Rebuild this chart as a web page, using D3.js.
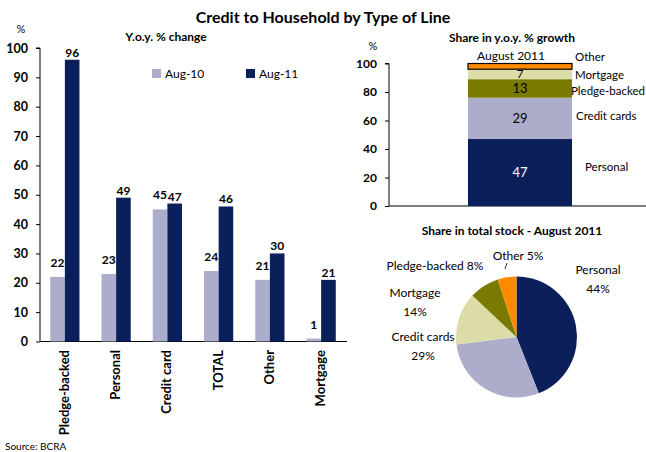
<!DOCTYPE html>
<html>
<head>
<meta charset="utf-8">
<script src="https://cdn.jsdelivr.net/npm/d3@7"></script>
<style>
  html, body { margin: 0; padding: 0; background: #fff; }
  svg { display: block; font-family: Lato, "Open Sans", sans-serif; }
</style>
</head>
<body>
<svg id="chart" width="646" height="452"></svg>
<script>
// Y.o.y. % change by line of credit
const categories = ["Pledge-backed", "Personal", "Credit card", "TOTAL", "Other", "Mortgage"];
const aug10 = [22, 23, 45, 24, 21, 1];
const aug11 = [96, 49, 47, 46, 30, 21];
const seriesNames = ["Aug-10", "Aug-11"];
const yTicks = [0, 10, 20, 30, 40, 50, 60, 70, 80, 90, 100];

// Share in y.o.y. % growth, August 2011 (stacked bottom to top)
const growthParts = ["Personal", "Credit cards", "Pledge-backed", "Mortgage", "Other"];
const growthShare = [47, 29, 13, 7, 4];
const growthLabels = ["47", "29", "13", "7", ""];
const growthTicks = [0, 20, 40, 60, 80, 100];

// Share in total stock, August 2011
const stockParts = ["Personal", "Credit cards", "Mortgage", "Pledge-backed", "Other"];
const stockShare = [44, 29, 14, 8, 5];

const colors = {
  "Personal": "#0b1f5b",
  "Credit cards": "#abadca",
  "Pledge-backed": "#7a7a00",
  "Mortgage": "#dcdca8",
  "Other": "#ff8a00"
};
const c10 = "#abadca", c11 = "#0b1f5b";

const svg = d3.select("#chart");

svg.append("text").attr("x", 323).attr("y", 23).attr("text-anchor", "middle")
  .attr("font-size", 16).attr("font-weight", "bold").text("Credit to Household by Type of Line");

// ---------- Left: grouped bars ----------
const L = { x0: 40, x1: 347, y0: 341.5, y1: 48 };
const x = d3.scaleBand().domain(categories).range([L.x0, L.x0 + 306]).paddingInner(0.43).paddingOuter(0.2);
const xs = d3.scaleBand().domain(seriesNames).range([0, x.bandwidth()]);
const y = d3.scaleLinear().domain([0, 100]).range([L.y0, L.y1]);

const left = svg.append("g");
left.append("text").attr("x", 166).attr("y", 41).attr("text-anchor", "middle")
  .attr("font-size", 12).attr("font-weight", "bold").text("Y.o.y. % change");
left.append("text").attr("x", 21).attr("y", 33).attr("text-anchor", "middle")
  .attr("font-size", 11).text("%");

const yAxis = left.append("g").attr("transform", `translate(${L.x0},0)`)
  .call(d3.axisLeft(y).tickValues(yTicks).tickSize(4).tickPadding(8));
yAxis.select(".domain").attr("stroke", "#000").attr("d", `M-4,${L.y1}H0V${L.y0}`);
yAxis.selectAll(".tick line").attr("stroke", "#000");
yAxis.selectAll(".tick text").attr("font-size", 12.5).attr("font-weight", "bold")
  .attr("font-family", "Lato, sans-serif").attr("fill", "#000");

left.append("line").attr("x1", L.x0).attr("x2", L.x1).attr("y1", L.y0).attr("y2", L.y0)
  .attr("stroke", "#000");

const groups = left.selectAll("g.cat").data(categories).join("g")
  .attr("transform", d => `translate(${x(d)},0)`);
const series = [aug10, aug11];
const scol = [c10, c11];
series.forEach((vals, s) => {
  groups.append("rect")
    .attr("x", xs(seriesNames[s])).attr("width", xs.bandwidth())
    .attr("y", (d, i) => y(vals[i])).attr("height", (d, i) => y(0) - y(vals[i]))
    .attr("fill", scol[s]);
});
// value labels: Aug-10 sit a little higher above their bars
series.forEach((vals, s) => {
  groups.append("text")
    .attr("x", xs(seriesNames[s]) + xs.bandwidth() / 2)
    .attr("y", (d, i) => y(vals[i]) - (s === 1 ? 3 : 10))
    .attr("text-anchor", "middle").attr("font-size", 12).attr("font-weight", "bold")
    .text((d, i) => vals[i]);
});
// category labels, rotated
groups.append("text")
  .attr("transform", `translate(${x.bandwidth() / 2 + 4},350) rotate(-90)`)
  .attr("text-anchor", "end").attr("font-size", 13).attr("font-weight", "bold")
  .text(d => d);

// legend
seriesNames.forEach((n, i) => {
  const lx = 152 + i * 94;
  left.append("rect").attr("x", lx).attr("y", 69).attr("width", 9).attr("height", 9).attr("fill", scol[i]);
  left.append("text").attr("x", lx + 13).attr("y", 78).attr("font-size", 12).text(n);
});

svg.append("text").attr("x", 5).attr("y", 450).attr("font-size", 10).text("Source: BCRA");

// ---------- Right top: stacked bar ----------
const R = { x0: 389, x1: 646, y0: 206, y1: 63.5 };
const yR = d3.scaleLinear().domain([0, 100]).range([R.y0, R.y1]);

const rt = svg.append("g");
rt.append("text").attr("x", 512).attr("y", 42).attr("text-anchor", "middle")
  .attr("font-size", 12).attr("font-weight", "bold").text("Share in y.o.y. % growth");
rt.append("text").attr("x", 373).attr("y", 50).attr("text-anchor", "middle")
  .attr("font-size", 11).text("%");

const yAxR = rt.append("g").attr("transform", `translate(${R.x0},0)`)
  .call(d3.axisLeft(yR).tickValues(growthTicks).tickSize(4).tickPadding(8));
yAxR.select(".domain").attr("stroke", "#000").attr("d", `M-4,${R.y1}H0V${R.y0}`);
yAxR.selectAll(".tick line").attr("stroke", "#000");
yAxR.selectAll(".tick text").attr("font-size", 12).attr("font-weight", "bold")
  .attr("font-family", "Lato, sans-serif").attr("fill", "#000");
rt.append("line").attr("x1", R.x0).attr("x2", R.x1).attr("y1", R.y0).attr("y2", R.y0).attr("stroke", "#000");

const stackRows = [Object.fromEntries(growthParts.map((p, i) => [p, growthShare[i]]))];
const stacked = d3.stack().keys(growthParts)(stackRows);
const bx = 468, bw = 104;
stacked.forEach((layer, i) => {
  const seg = layer[0];
  const isOther = growthParts[i] === "Other";
  rt.append("rect").attr("x", bx).attr("width", bw)
    .attr("y", yR(seg[1])).attr("height", yR(seg[0]) - yR(seg[1]))
    .attr("fill", colors[growthParts[i]])
    .attr("stroke", isOther ? "#000" : "none").attr("stroke-width", isOther ? 1.2 : 0);
  if (growthLabels[i]) {
    const small = seg[1] - seg[0] < 10;
    rt.append("text").attr("x", bx + bw / 2)
      .attr("y", yR((seg[0] + seg[1]) / 2) + (small ? 3.5 : 4.5))
      .attr("text-anchor", "middle").attr("font-size", small ? 11.5 : 13)
      .attr("fill", growthParts[i] === "Personal" ? "#fff" : "#000")
      .text(growthLabels[i]);
  }
});
rt.append("text").attr("x", 511).attr("y", 60).attr("text-anchor", "middle")
  .attr("font-size", 12).text("August 2011");

const sideLabels = [
  { t: "Other", x: 575, y: 61 },
  { t: "Mortgage", x: 575, y: 79 },
  { t: "Pledge-backed", x: 571, y: 95 },
  { t: "Credit cards", x: 576, y: 120 },
  { t: "Personal", x: 585, y: 171 }
];
rt.selectAll("text.side").data(sideLabels).join("text")
  .attr("x", d => d.x).attr("y", d => d.y).attr("font-size", 11.5).text(d => d.t);

// ---------- Right bottom: pie ----------
const pg = svg.append("g");
pg.append("text").attr("x", 512).attr("y", 235).attr("text-anchor", "middle")
  .attr("font-size", 12).attr("font-weight", "bold").text("Share in total stock - August 2011");

const cx = 516.5, cy = 337, rad = 60.5;
const pie = d3.pie().sort(null).value(d => d.v);
const arcs = pie(stockParts.map((p, i) => ({ p, v: stockShare[i] })));
const arc = d3.arc().innerRadius(0).outerRadius(rad);
pg.append("g").attr("transform", `translate(${cx},${cy})`)
  .selectAll("path").data(arcs).join("path")
  .attr("d", arc).attr("fill", d => colors[d.data.p]);

const pieLabels = [
  { lines: ["Personal", "44%"], x: 598, y: 274 },
  { lines: ["Other 5%"], x: 518, y: 260 },
  { lines: ["Pledge-backed 8%"], x: 435, y: 270 },
  { lines: ["Mortgage", "14%"], x: 415, y: 297 },
  { lines: ["Credit cards", "29%"], x: 423, y: 341 }
];
pieLabels.forEach(l => {
  l.lines.forEach((s, j) => {
    pg.append("text").attr("x", l.x).attr("y", l.y + j * 19).attr("text-anchor", "middle")
      .attr("font-size", 12).text(s);
  });
});
pg.append("line").attr("x1", 505).attr("y1", 269).attr("x2", 507).attr("y2", 263)
  .attr("stroke", "#000").attr("stroke-width", 0.8);
</script>
</body>
</html>
